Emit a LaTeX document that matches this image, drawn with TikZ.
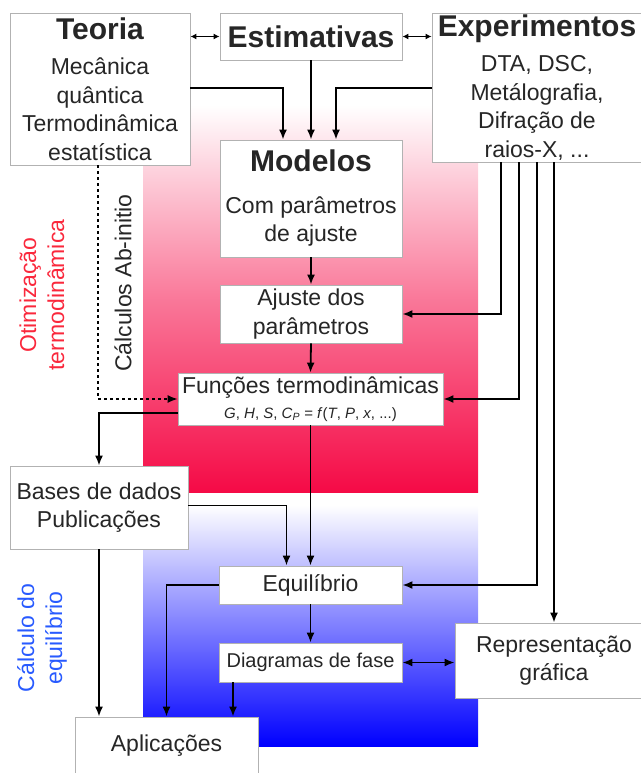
\documentclass[tikz,border=0pt]{standalone}
\usepackage{fontspec}
\setmainfont{Liberation Sans}
\usetikzlibrary{arrows.meta,calc}
\definecolor{rosa}{RGB}{245,10,70}
\definecolor{azul}{RGB}{0,0,255}
\definecolor{txtrosa}{RGB}{250,40,60}
\definecolor{txtazul}{RGB}{40,90,255}

\begin{document}
\begin{tikzpicture}[x=1pt,y=-1pt,
    caixa/.style={draw=gray!60,fill=white,line width=0.8pt,inner sep=0pt,align=center,
      text=black!85,font=\fontsize{23}{28.5}\selectfont},
    seta/.style={line width=1.8pt,-{Latex[length=10pt,width=8pt]}},
    duplo/.style={line width=1.4pt,{Latex[length=6pt,width=6pt]}-{Latex[length=6pt,width=6pt]}},
    duplogr/.style={line width=1.8pt,{Latex[length=10pt,width=8pt]}-{Latex[length=10pt,width=8pt]}},
    pontilhada/.style={line width=1.5pt,dash pattern=on 3pt off 3pt,-{Latex[length=10pt,width=8pt]}},
    rotulo/.style={rotate=90,align=center,font=\fontsize{23}{28}\selectfont}]
    \useasboundingbox (0,0) rectangle (640,773);

    % fundos
    \shade[top color=white,bottom color=rosa,middle color=rosa!55] (143,105) rectangle (478,492);
    \shade[top color=white,bottom color=azul] (143,505) rectangle (478,746);

    % caixas
    \node[caixa,minimum width=180pt,minimum height=152pt] (teo) at (100,89)
      {{\fontsize{30}{30}\selectfont\bfseries Teoria}\\[7pt]Mecânica\\quântica\\Termodinâmica\\estatística};
    \node[caixa,minimum width=182pt,minimum height=47pt] (est) at (311,36.5)
      {\fontsize{30}{30}\selectfont\bfseries Estimativas};
    \node[caixa,minimum width=210pt,minimum height=149pt] (exp) at (537,87.5)
      {{\fontsize{30}{30}\selectfont\bfseries Experimentos}\\[7pt]DTA, DSC,\\Metálografia,\\Difração de\\raios-X, ...};
    \node[caixa,minimum width=182pt,minimum height=117pt] (mod) at (311,198.5)
      {{\fontsize{30}{30}\selectfont\bfseries Modelos}\\[13pt]Com parâmetros\\de ajuste};
    \node[caixa,minimum width=182pt,minimum height=58pt] (aju) at (311,314)
      {Ajuste dos\\parâmetros};
    \node[caixa,minimum width=265pt,minimum height=52pt] (fun) at (310.5,399)
      {Funções termodinâmicas\\[-3pt]{\fontsize{15}{15}\selectfont\textit{G}, \textit{H}, \textit{S}, \textit{C}\textsubscript{\textit{P}} = \textit{f}(\textit{T}, \textit{P}, \textit{x}, ...)}};
    \node[caixa,minimum width=178pt,minimum height=83pt] (bas) at (99,507.5)
      {Bases de dados\\Publicações};
    \node[caixa,minimum width=183pt,minimum height=38pt] (equ) at (310.5,585)
      {Equilíbrio};
    \node[caixa,minimum width=183pt,minimum height=39pt,font=\fontsize{20}{24}\selectfont] (dia) at (310.5,662.5)
      {Diagramas de fase};
    \node[caixa,minimum width=198pt,minimum height=75pt] (rep) at (554,660.5)
      {Representação\\gráfica};
    \node[caixa,minimum width=183pt,minimum height=58pt] (apl) at (166.5,746)
      {Aplicações};

    % rotulos laterais
    \node[rotulo,text=txtrosa] (otim) at (42,295) {Otimização\\termodinâmica};
    \node[rotulo,text=black!85] (abin) at (123,283) {Cálculos Ab-initio};
    \node[rotulo,text=txtazul] (calc) at (42,638) {Cálculo do\\equilíbrio};

    % ligacoes
    \draw[duplo] (teo.east |- est.west) -- (est.west);
    \draw[duplo] (est.east) -- (exp.west |- est.east);
    \draw[seta] (teo.east |- 0,88) -| ($(mod.north)+(-28,0)$);
    \draw[seta] (est.south) -- (mod.north);
    \draw[seta] (exp.west |- 0,88) -| ($(mod.north)+(25,0)$);
    \draw[seta] (mod.south) -- (aju.north);
    \draw[seta] (aju.south) -- (fun.north);
    \draw[seta] (exp.south -| 501,0) |- (aju.east);
    \draw[seta] (exp.south -| 519,0) |- (fun.east);
    \draw[seta] (exp.south -| 537,0) |- (equ.east);
    \draw[seta] (exp.south -| 554,0) -- (rep.north -| 554,0);
    \draw[pontilhada] (teo.south -| 98,0) |- (fun.west);
    \draw[seta] ($(fun.west)+(0,14)$) -| (bas.north);
    \draw[seta] (fun.south) -- (equ.north);
    \draw[seta] ($(bas.east)+(0,-2)$) -| ($(equ.north)+(-24,0)$);
    \draw[seta] (equ.south) -- (dia.north);
    \draw[duplogr] (dia.east) -- (rep.west |- dia.east);
    \draw[seta] (equ.west) -| (apl.north);
    \draw[seta] (dia.south -| 233,0) -- (apl.north -| 233,0);
    \draw[seta] (bas.south) -- (apl.north -| bas.south);
\end{tikzpicture}
\end{document}
